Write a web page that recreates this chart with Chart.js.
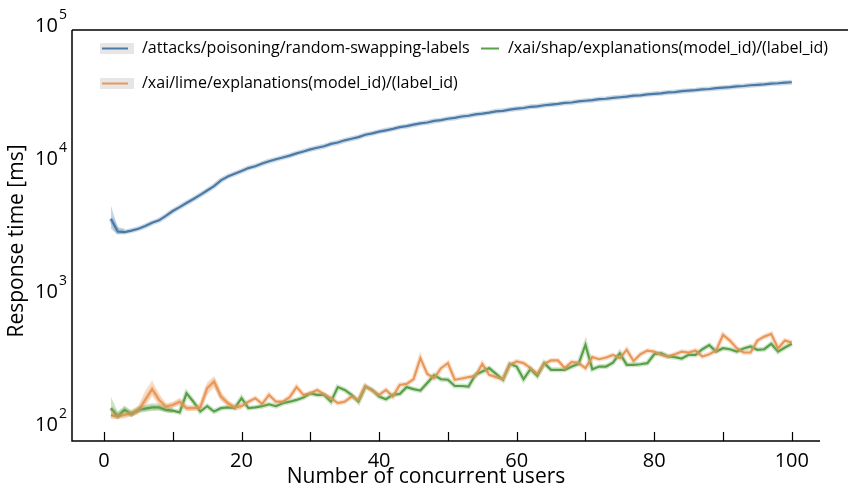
<!DOCTYPE html>
<html>
<head>
<meta charset="utf-8">
<script src="https://cdn.jsdelivr.net/npm/chart.js@4.4.1/dist/chart.umd.min.js"></script>
<style>
  html, body { margin: 0; padding: 0; background: #fff; }
  #wrap { width: 848px; height: 489px; }
</style>
</head>
<body>
<div id="wrap"><canvas id="chart" width="848" height="489"></canvas></div>
<script>
// number of concurrent users, 1..100
const users = Array.from({ length: 100 }, (_, i) => i + 1);

// mean response time per endpoint [ms]
const attackMs = [3800, 3050, 3020, 3100, 3200, 3350, 3550, 3700, 4000, 4350,
  4650, 5000, 5350, 5750, 6200, 6700, 7400, 7900, 8300, 8700,
  9150, 9450, 9900, 10300, 10650, 11000, 11350, 11800, 12200, 12650,
  13000, 13350, 13900, 14250, 14800, 15200, 15650, 16300, 16700, 17200,
  17600, 18050, 18600, 18900, 19400, 19850, 20150, 20700, 21000, 21500,
  21800, 22350, 22650, 23200, 23500, 23900, 24450, 24650, 25200, 25600,
  25900, 26450, 26650, 27150, 27500, 27800, 28300, 28500, 29050, 29350,
  29650, 30200, 30400, 30900, 31200, 31550, 32050, 32250, 32800, 33100,
  33400, 33900, 34150, 34650, 34950, 35300, 35800, 36000, 36500, 36850,
  37150, 37700, 37900, 38400, 38700, 39000, 39550, 39750, 40150, 40450];

const limeMs = [127, 124, 127, 131, 137, 165, 199, 165, 147, 151,
  160, 143, 143, 145, 202, 227, 175, 156, 145, 148,
  160, 170, 154, 180, 160, 160, 173, 206, 180, 185,
  196, 182, 170, 156, 160, 175, 165, 210, 194, 180,
  196, 175, 214, 218, 236, 340, 259, 241, 286, 312,
  234, 239, 245, 250, 308, 255, 245, 236, 303, 321,
  312, 286, 259, 308, 327, 327, 286, 319, 312, 286,
  346, 334, 344, 360, 340, 393, 324, 364, 388, 381,
  360, 350, 364, 381, 375, 388, 350, 364, 388, 509,
  461, 404, 375, 375, 461, 494, 518, 404, 461, 446];

const shapMs = [143, 125, 139, 129, 139, 142, 145, 145, 139, 137,
  133, 185, 160, 135, 148, 135, 143, 145, 143, 170,
  143, 145, 148, 153, 148, 156, 160, 165, 172, 185,
  180, 180, 160, 206, 196, 180, 160, 208, 196, 175,
  167, 180, 183, 206, 199, 194, 221, 253, 236, 234,
  210, 210, 208, 255, 270, 286, 259, 234, 308, 294,
  236, 281, 250, 312, 278, 278, 278, 294, 308, 429,
  281, 294, 294, 315, 371, 303, 303, 306, 312, 364,
  371, 350, 346, 338, 360, 360, 397, 426, 381, 404,
  397, 381, 402, 416, 393, 397, 436, 381, 409, 436];

// confidence band where it is wide enough to see (first users only)
const attackBandLo = [3200, 2900, 2950];
const attackBandHi = [4800, 3300, 3200];
const limeBandLo = [118, 118, 120, 124, 128, 148, 175, 150, 140, 144,
  150, 136, 136, 138, 180, 205, 162, 148, 138, 140];
const limeBandHi = [140, 132, 135, 140, 150, 195, 232, 185, 156, 160,
  172, 152, 150, 155, 225, 250, 190, 165, 152, 157];
const shapBandLo = [124, 118, 130, 122, 132, 134, 136, 137, 133, 131];
const shapBandHi = [175, 135, 150, 137, 148, 152, 156, 155, 147, 145];

const seriesLabels = [
  '/attacks/poisoning/random-swapping-labels',
  '/xai/lime/explanations(model_id)/(label_id)',
  '/xai/shap/explanations(model_id)/(label_id)'
];

const xTickLabels = [0, 20, 40, 60, 80, 100];
const xMinorTicks = [0, 10, 20, 30, 40, 50, 60, 70, 80, 90, 100];
const yDecades = [2, 3, 4, 5];

const colors = {
  attack: '#4a7aa5',
  lime: '#ea985a',
  shap: '#58a049'
};

const FONT = '"Open Sans", "Noto Sans", sans-serif';

function pts(arr) {
  return arr.map((v, i) => ({ x: users[i], y: v }));
}

function fade(hex, a) {
  const n = parseInt(hex.slice(1), 16);
  return `rgba(${(n >> 16) & 255}, ${(n >> 8) & 255}, ${n & 255}, ${a})`;
}

function bandPair(lo, hi, color) {
  return [
    { data: pts(lo), borderWidth: 0, pointRadius: 0, fill: false },
    { data: pts(hi), borderWidth: 0, pointRadius: 0, fill: '-1', backgroundColor: fade(color, 0.3) }
  ];
}

function halo(arr, color) {
  return { data: pts(arr), borderColor: fade(color, 0.28), borderWidth: 5, pointRadius: 0, fill: false };
}

function mainLine(arr, color) {
  return { data: pts(arr), borderColor: color, borderWidth: 2.2, pointRadius: 0, fill: false };
}

// axes frame, inward ticks, tick labels, titles and legend
const decorations = {
  id: 'decorations',
  afterDraw(chart) {
    const { ctx, chartArea: a, scales } = chart;
    const xs = scales.x, ys = scales.y;
    ctx.save();

    ctx.strokeStyle = '#000';
    ctx.lineWidth = 1.5;
    ctx.beginPath();
    ctx.moveTo(a.left, a.top);
    ctx.lineTo(a.left, a.bottom);
    ctx.lineTo(a.right, a.bottom);
    ctx.moveTo(a.left, a.top);
    ctx.lineTo(chart.width, a.top);
    ctx.stroke();

    ctx.lineWidth = 1.2;
    xMinorTicks.forEach(v => {
      const px = Math.round(xs.getPixelForValue(v)) + 0.5;
      ctx.beginPath();
      ctx.moveTo(px, a.bottom);
      ctx.lineTo(px, a.bottom - 9);
      ctx.stroke();
    });

    ctx.fillStyle = '#000';
    ctx.font = '500 20px ' + FONT;
    ctx.textAlign = 'center';
    ctx.textBaseline = 'middle';
    xTickLabels.forEach(v => {
      ctx.fillText(String(v), xs.getPixelForValue(v), a.bottom + 20);
    });

    ctx.font = '500 21px ' + FONT;
    ctx.fillText('Number of concurrent users', 426, a.bottom + 36);

    // powers of ten with raised exponent
    yDecades.forEach(k => {
      const py = ys.getPixelForValue(Math.pow(10, k));
      ctx.font = '500 14px ' + FONT;
      ctx.textAlign = 'right';
      ctx.textBaseline = 'middle';
      const expW = ctx.measureText(String(k)).width;
      ctx.fillText(String(k), a.left - 5, py - 15);
      ctx.font = '500 20px ' + FONT;
      ctx.fillText('10', a.left - 5 - expW - 1, py - 4);
    });

    ctx.save();
    ctx.translate(17, 241);
    ctx.rotate(-Math.PI / 2);
    ctx.textAlign = 'center';
    ctx.textBaseline = 'middle';
    ctx.font = '500 21px ' + FONT;
    ctx.fillText('Response time [ms]', 0, 0);
    ctx.restore();

    // legend
    const items = [
      { label: seriesLabels[0], color: colors.attack, x: 100, y: 48, patch: true },
      { label: seriesLabels[1], color: colors.lime, x: 100, y: 83, patch: true },
      { label: seriesLabels[2], color: colors.shap, x: 481, y: 48, patch: false }
    ];
    ctx.font = '16px ' + FONT;
    ctx.textAlign = 'left';
    ctx.textBaseline = 'middle';
    items.forEach(it => {
      const w = it.patch ? 34 : 18;
      if (it.patch) {
        ctx.fillStyle = '#e6e6e6';
        ctx.fillRect(it.x, it.y - 5, w, 11);
      }
      ctx.strokeStyle = it.color;
      ctx.lineWidth = 2;
      ctx.beginPath();
      ctx.moveTo(it.x + (it.patch ? 2 : 0), it.y + 0.5);
      ctx.lineTo(it.x + w - (it.patch ? 6 : 0), it.y + 0.5);
      ctx.stroke();
      ctx.fillStyle = '#000';
      ctx.fillText(it.label, it.x + w + (it.patch ? 8 : 9), it.y);
    });

    ctx.restore();
  }
};

const ctx = document.getElementById('chart').getContext('2d');
new Chart(ctx, {
  type: 'line',
  data: {
    datasets: [
      ...bandPair(attackBandLo, attackBandHi, colors.attack),
      ...bandPair(limeBandLo, limeBandHi, colors.lime),
      ...bandPair(shapBandLo, shapBandHi, colors.shap),
      halo(attackMs, colors.attack),
      halo(limeMs, colors.lime),
      halo(shapMs, colors.shap),
      mainLine(attackMs, colors.attack),
      mainLine(limeMs, colors.lime),
      mainLine(shapMs, colors.shap)
    ]
  },
  options: {
    responsive: false,
    animation: false,
    layout: { padding: { left: 72, right: 28, top: 30, bottom: 48 } },
    elements: { line: { tension: 0 } },
    plugins: {
      legend: { display: false },
      tooltip: { enabled: false },
      filler: { propagate: false }
    },
    scales: {
      x: { type: 'linear', min: -4.65, max: 104.1, display: false },
      y: { type: 'logarithmic', min: 81, max: 100000, display: false }
    }
  },
  plugins: [decorations]
});
</script>
</body>
</html>
